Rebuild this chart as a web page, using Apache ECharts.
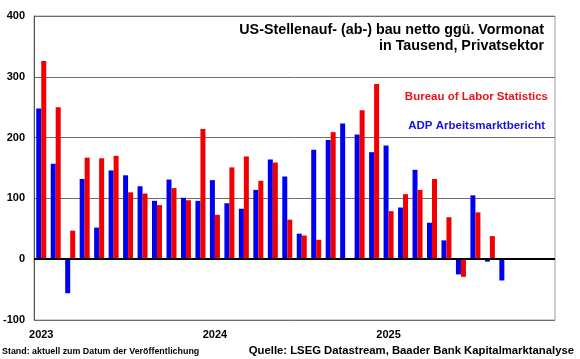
<!DOCTYPE html>
<html>
<head>
<meta charset="utf-8">
<script src="https://cdn.jsdelivr.net/npm/echarts@6/dist/echarts.min.js"></script>
<style>html,body{margin:0;padding:0;background:#fff}#c{width:580px;height:359px}</style>
</head>
<body>
<div id="c"></div>
<script>
const categories = [
  '2023-01','2023-02','2023-03','2023-04','2023-05','2023-06','2023-07','2023-08','2023-09','2023-10','2023-11','2023-12',
  '2024-01','2024-02','2024-03','2024-04','2024-05','2024-06','2024-07','2024-08','2024-09','2024-10','2024-11','2024-12',
  '2025-01','2025-02','2025-03','2025-04','2025-05','2025-06','2025-07','2025-08','2025-09','2025-10','2025-11','2025-12'
];
const adpValues = [
  248, 157, -56, 132, 52, 146, 138, 120, 96, 131, 101, 96,
  130, 92, 83, 114, 164, 136, 42, 180, 196, 223, 205, 176,
  187, 85, 147, 60, 31, -25, 105, -4, -35, null, null, null
];
const blsValues = [
  326, 250, 47, 167, 166, 170, 110, 108, 89, 117, 97, 214,
  73, 151, 169, 129, 159, 65, 39, 32, 209, null, 245, 288,
  79, 107, 114, 132, 69, -29, 77, 38, null, null, null, null
];
const yearTickLabels = {'2023-01': '2023', '2024-01': '2024', '2025-01': '2025'};
const titleLines = ['US-Stellenauf- (ab-) bau netto ggü. Vormonat', 'in Tausend, Privatsektor'];
const blsName = 'Bureau of Labor Statistics';
const adpName = 'ADP Arbeitsmarktbericht';
const noteLeft = 'Stand: aktuell zum Datum der Veröffentlichung';
const noteRight = 'Quelle: LSEG Datastream, Baader Bank Kapitalmarktanalyse';

const FONT = '"Liberation Sans", Arial, sans-serif';
const chart = echarts.init(document.getElementById('c'), null, {renderer: 'canvas'});
chart.setOption({
  animation: false,
  backgroundColor: '#fff',
  grid: {left: 33, right: 25, top: 16, bottom: 39, show: true, borderColor: '#a0a0a0', borderWidth: 1},
  xAxis: {
    type: 'category', data: categories,
    axisLine: {onZero: false, show: false},
    axisTick: {show: false},
    axisLabel: {
      interval: 0, margin: 9, color: '#000', fontFamily: FONT, fontWeight: 'bold', fontSize: 11,
      formatter: v => yearTickLabels[v] || ''
    },
    splitLine: {show: false}
  },
  yAxis: {
    type: 'value', min: -100, max: 400, interval: 100,
    axisLine: {show: true, lineStyle: {color: '#555', width: 1}},
    axisTick: {show: false},
    axisLabel: {color: '#000', fontFamily: FONT, fontWeight: 'bold', fontSize: 11, margin: 9},
    splitLine: {show: true, lineStyle: {color: '#6e6e6e', width: 1}}
  },
  series: [
    {
      name: adpName, type: 'bar', data: adpValues, barWidth: 5, barGap: '0%',
      itemStyle: {color: '#0000f0'},
      markLine: {
        silent: true, symbol: 'none', label: {show: false},
        lineStyle: {color: '#000', width: 2, type: 'solid'},
        data: [{yAxis: 0}]
      }
    },
    {
      name: blsName, type: 'bar', data: blsValues, barWidth: 5, barGap: '0%',
      itemStyle: {color: '#f00000'}
    }
  ],
  graphic: [
    {type: 'text', x: 544, y: 30, style: {text: titleLines[0], textAlign: 'right', textVerticalAlign: 'middle', font: 'bold 14.3px ' + FONT, fill: '#000'}},
    {type: 'text', x: 544, y: 46, style: {text: titleLines[1], textAlign: 'right', textVerticalAlign: 'middle', font: 'bold 14.3px ' + FONT, fill: '#000'}},
    {type: 'text', x: 548, y: 97, style: {text: blsName, textAlign: 'right', textVerticalAlign: 'middle', font: 'bold 11.5px ' + FONT, fill: '#e8141c'}},
    {type: 'text', x: 545, y: 126, style: {text: adpName, textAlign: 'right', textVerticalAlign: 'middle', font: 'bold 11.5px ' + FONT, fill: '#1414d8'}},
    {type: 'text', x: 2, y: 352, style: {text: noteLeft, textAlign: 'left', textVerticalAlign: 'middle', font: 'bold 8.9px ' + FONT, fill: '#000'}},
    {type: 'text', x: 574, y: 351, style: {text: noteRight, textAlign: 'right', textVerticalAlign: 'middle', font: 'bold 11.3px ' + FONT, fill: '#000'}}
  ]
});
</script>
</body>
</html>
